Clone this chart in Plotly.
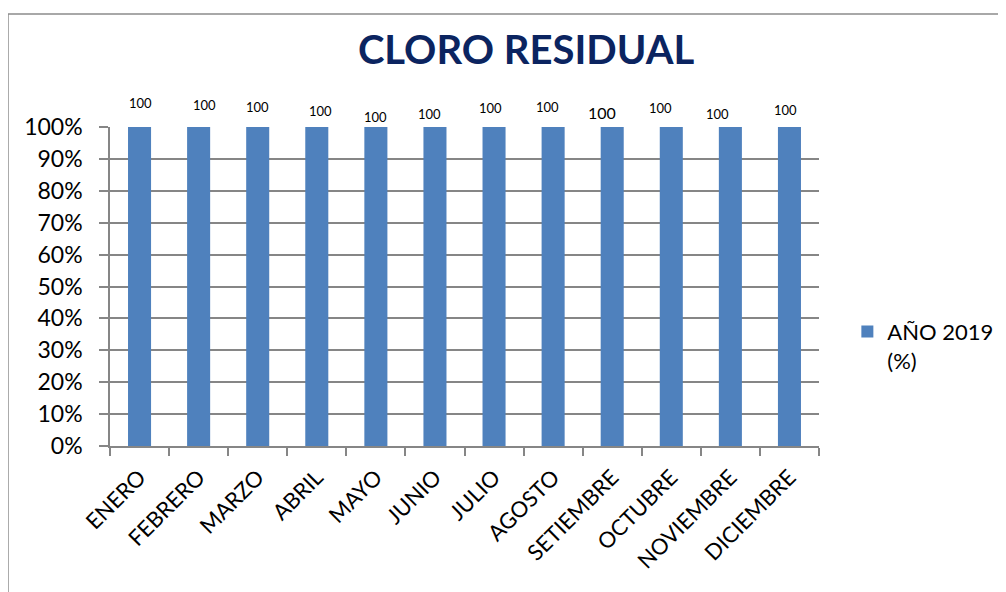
"""
Gráfico de barras - Cloro residual 2019
"""
import plotly.graph_objects as go

# Dados
meses = ['ENERO', 'FEBRERO', 'MARZO', 'ABRIL', 'MAYO', 'JUNIO', 'JULIO',
         'AGOSTO', 'SETIEMBRE', 'OCTUBRE', 'NOVIEMBRE', 'DICIEMBRE']
cumplimiento = [100, 100, 100, 100, 100, 100, 100, 100, 100, 100, 100, 100]
serie_nombre = 'AÑO 2019<br>(%)'
titulo = 'CLORO RESIDUAL'

# Estilo das etiquetas (deslocamentos como no original do Excel)
etiqueta_dy = [24, 22, 20, 16, 10, 13, 19, 20, 15, 19, 13, 17]
etiqueta_dx = [1, 6, 0, 4, 0, -5, -4, -6, -10, -11, -13, -4]
etiqueta_tam = [13, 13, 13, 13, 13, 13, 13, 13, 16, 13, 13, 13]

FONTE = 'Lato'
AZUL = '#4F81BD'
CINZA = '#868686'

fig = go.Figure()
fig.add_trace(go.Bar(x=meses, y=cumplimiento, name=serie_nombre,
                     marker_color=AZUL, marker_line_width=0,
                     showlegend=True))

# Etiquetas de dados
for i, (m, v) in enumerate(zip(meses, cumplimiento)):
    fig.add_annotation(x=m, y=v, text=str(v), showarrow=False,
                       yanchor='middle', yshift=etiqueta_dy[i],
                       xshift=etiqueta_dx[i],
                       font=dict(family=FONTE, size=etiqueta_tam[i], color='#000000'))

# Moldura do gráfico
fig.add_shape(type='rect', xref='paper', yref='paper',
              x0=-0.1439, x1=1.30, y0=-0.50, y1=1.354,
              line=dict(color='#8C8C8C', width=1.5), fillcolor='rgba(0,0,0,0)',
              layer='below')

# a página tem 8px de margem no body, por isso as margens estão compensadas
fig.update_layout(
    width=1006, height=592,
    margin=dict(l=102, r=195, t=119, b=154, autoexpand=False),
    paper_bgcolor='white', plot_bgcolor='white',
    font=dict(family=FONTE, color='#000000'),
    title=dict(text='<b>' + titulo + '</b>', x=0.515, xanchor='center',
               y=0.929, yanchor='middle', yref='container',
               font=dict(family=FONTE, size=40, color='#0B2460')),
    bargap=0.61,
    legend=dict(x=1.04, y=0.313, xanchor='left', yanchor='middle', valign='top',
                font=dict(family=FONTE, size=22, color='#000000'),
                itemwidth=30, bgcolor='rgba(0,0,0,0)'),
    xaxis=dict(type='category', tickangle=-45, tickson='boundaries',
               ticks='outside', ticklen=8, tickwidth=1.5, tickcolor=CINZA,
               showline=True, linecolor=CINZA, linewidth=1.5, automargin=False,
               ticklabelstandoff=8,
               showgrid=False, tickfont=dict(family=FONTE, size=22)),
    yaxis=dict(range=[0, 100], tickvals=[0, 10, 20, 30, 40, 50, 60, 70, 80, 90, 100],
               ticktext=['0%', '10%', '20%', '30%', '40%', '50%', '60%', '70%', '80%', '90%', '100%'],
               ticks='outside', ticklen=9, tickwidth=1.5, tickcolor=CINZA,
               showline=True, linecolor=CINZA, linewidth=1.5, automargin=False,
               ticklabelstandoff=12,
               showgrid=True, gridcolor=CINZA, gridwidth=1.5,
               zeroline=False, tickfont=dict(family=FONTE, size=23)),
)

fig.write_html('out.html')
